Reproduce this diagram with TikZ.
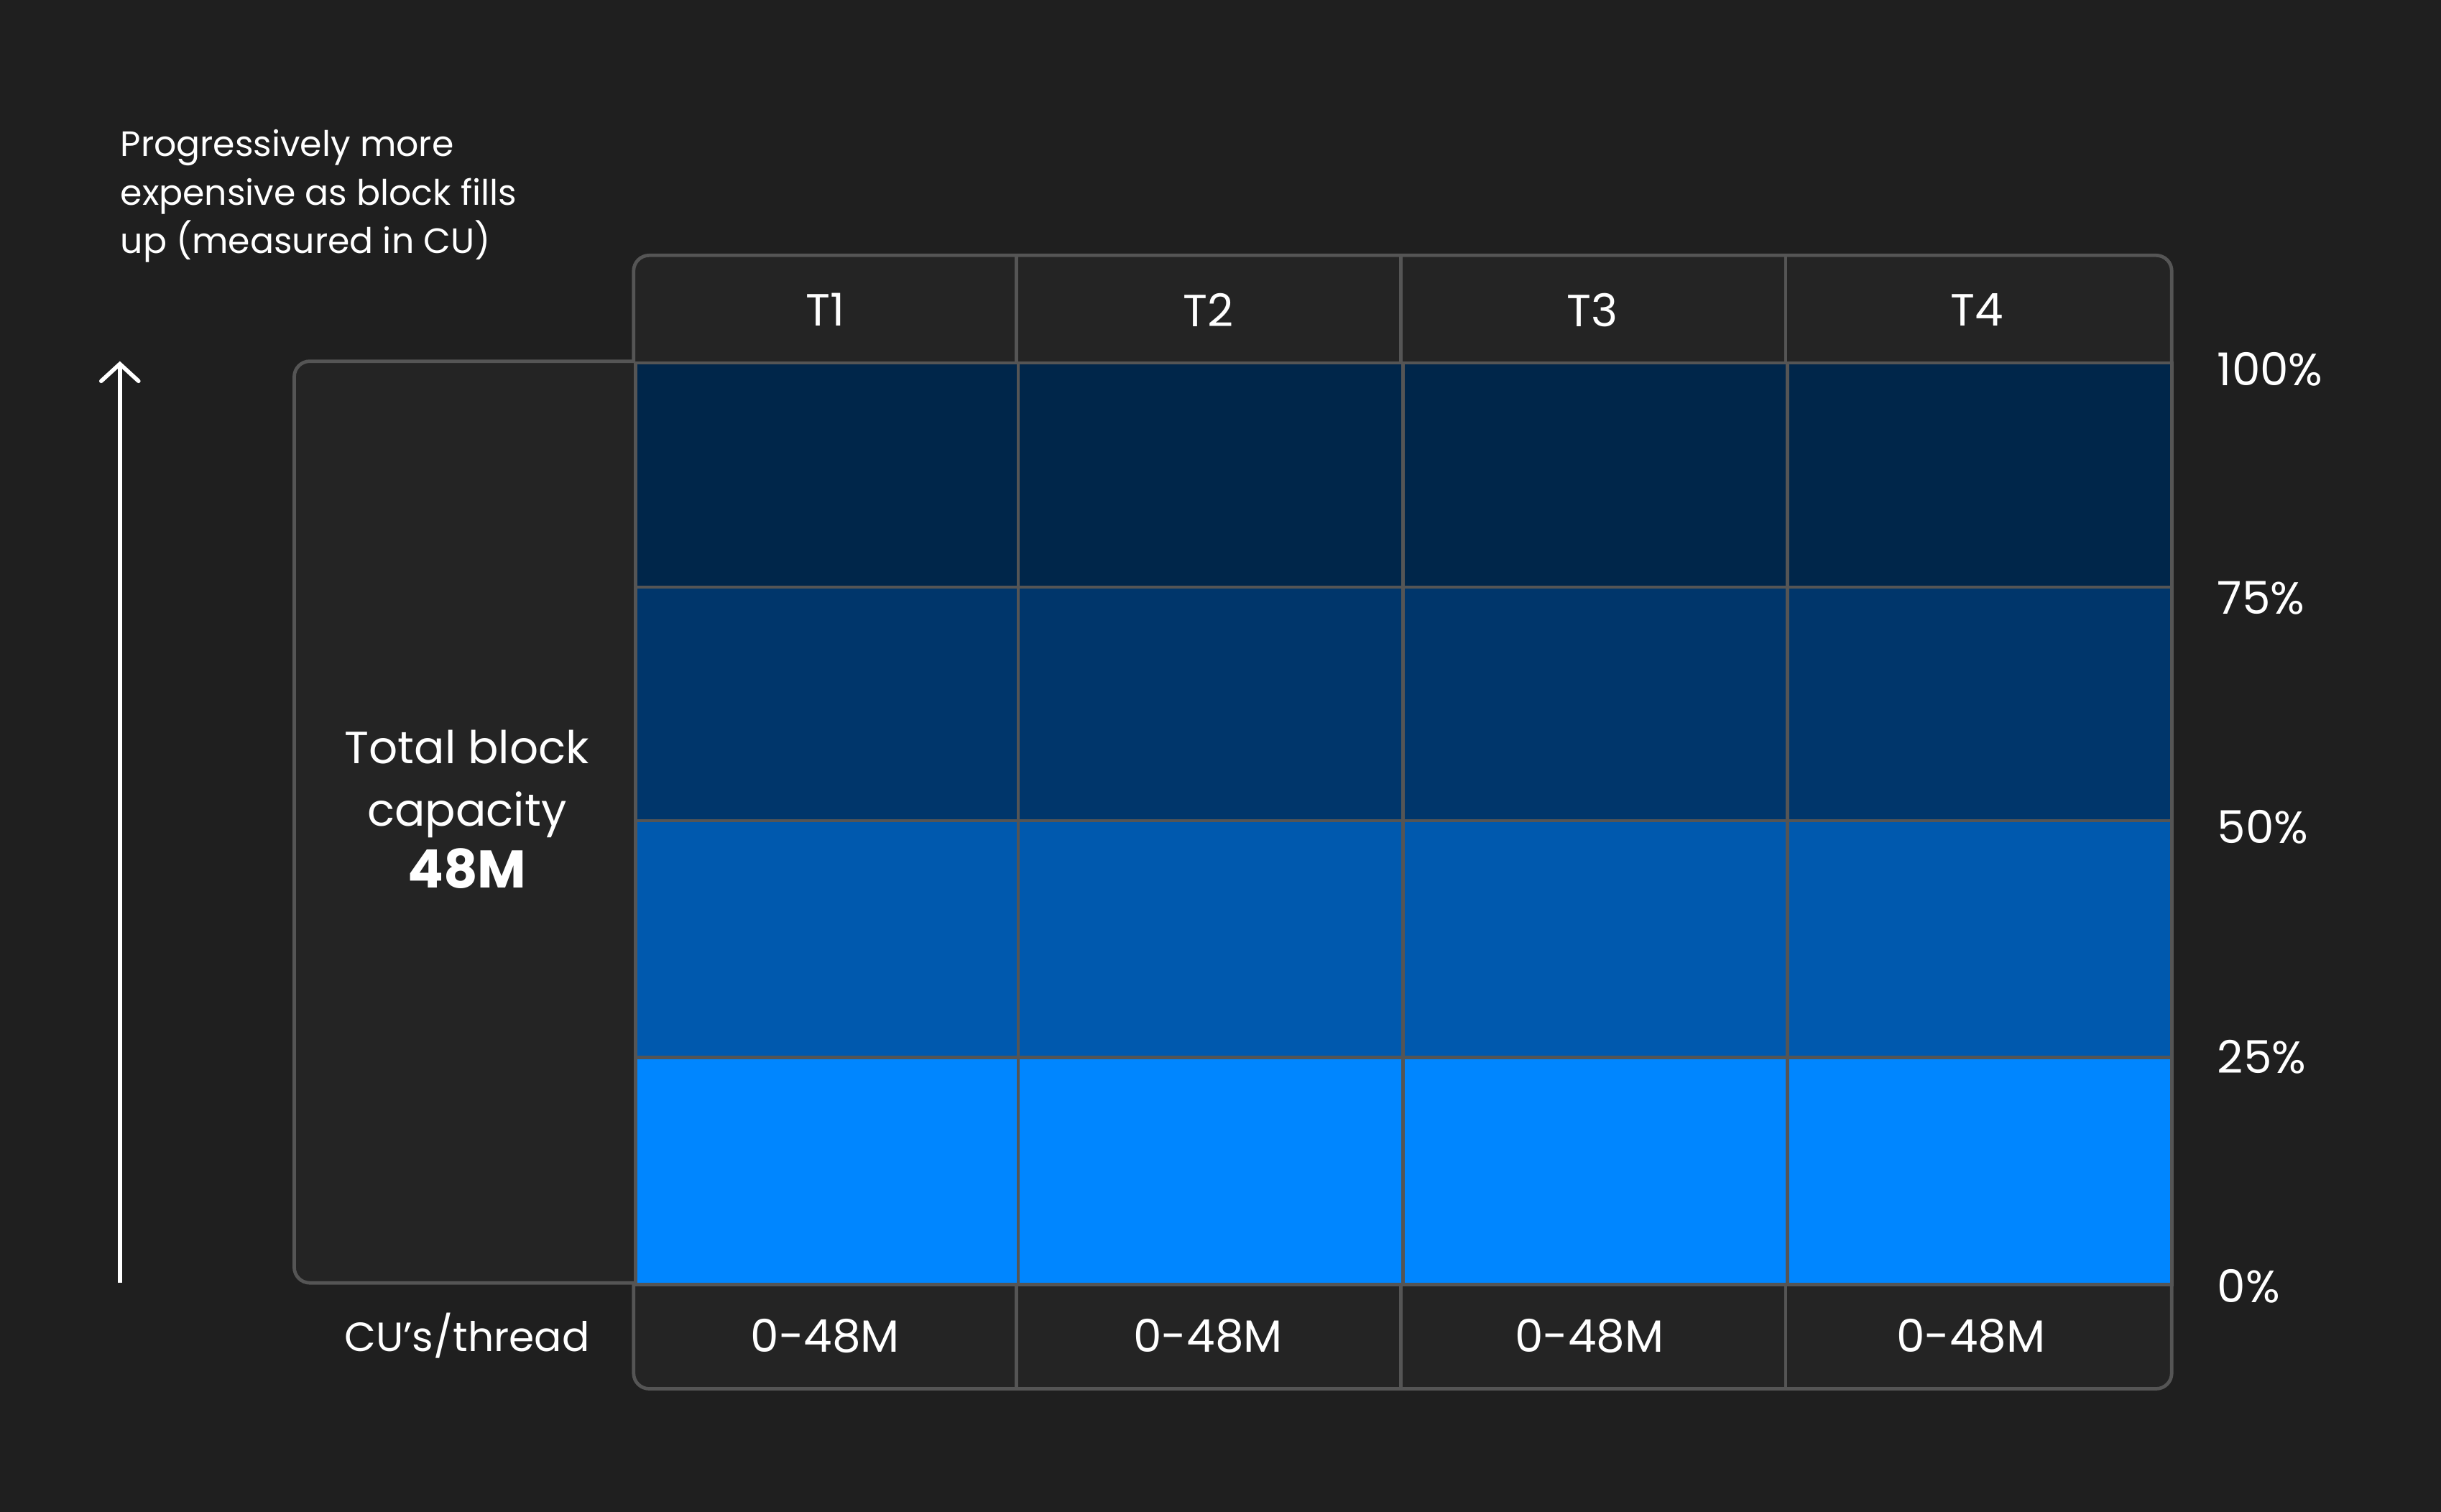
\documentclass[tikz,border=0pt]{standalone}
\usepackage{fontspec}
\setmainfont{Poppins}
\usetikzlibrary{arrows.meta}
\definecolor{bgc}{HTML}{1F1F1F}
\definecolor{boxc}{HTML}{242424}
\definecolor{linec}{HTML}{555555}
\definecolor{rowa}{HTML}{00264A}
\definecolor{rowb}{HTML}{00366B}
\definecolor{rowc}{HTML}{0059AE}
\definecolor{rowd}{HTML}{0086FF}
\tikzset{
  gridline/.style={draw=linec, line width=1.1pt},
  cellbox/.style={gridline, minimum width=123.5pt, minimum height=#1, inner sep=0pt, anchor=north west},
  lbl/.style={text=white, inner sep=0pt},
  bigtxt/.style={lbl, font=\fontsize{14.5}{18}\selectfont},
  pcttxt/.style={lbl, anchor=west, font=\fontsize{14.5}{17}\selectfont},
}
\begin{document}
\begin{tikzpicture}[x=0.5pt, y=-0.5pt]
\fill[bgc] (0,0) rectangle (1568,971);
\useasboundingbox (0,0) rectangle (1568,971);
% header box and bottom box (rounded outer corners)
\path[gridline, fill=boxc, rounded corners=5pt] (407,240) -- (407,164) -- (1395,164) -- (1395,240);
\path[gridline, fill=boxc, rounded corners=5pt] (407,816) -- (407,892) -- (1395,892) -- (1395,816);
% left box
\path[gridline, fill=boxc, rounded corners=5pt] (407,232) -- (189,232) -- (189,824) -- (407,824);
% dividers in header and bottom row
\foreach \x in {653,900,1147}{
  \draw[gridline] (\x,164) -- (\x,232);
  \draw[gridline] (\x,824) -- (\x,892);
}
\foreach \i/\xc in {1/530,2/776,3/1023,4/1270}{
  \node[bigtxt] (t\i) at (\xc,199) {T\i};
}
% colored cells
\foreach \i/\x in {1/407,2/653,3/900,4/1147}{
  \node[cellbox=72pt, fill=rowa] (ca\i) at (\x,232) {};
  \node[cellbox=75pt, fill=rowb] (cb\i) at (\x,376) {};
  \node[cellbox=76pt, fill=rowc] (cc\i) at (\x,526) {};
  \node[cellbox=73pt, fill=rowd] (cd\i) at (\x,678) {};
}
% bottom values
\foreach \i/\xc in {1/530,2/776,3/1021,4/1266}{
  \node[bigtxt] (v\i) at (\xc,858) {0-48M};
}
% left texts
\node[lbl, font=\fontsize{11.3}{15.5}\selectfont, anchor=north west, align=left] (desc) at (77,83)
  {Progressively more\\expensive as block fills\\up (measured in CU)};
\node[bigtxt, align=center, font=\fontsize{14.5}{20}\selectfont] (total) at (300,520)
  {Total block\\capacity\\{\fontsize{17}{20}\selectfont\bfseries 48M}};
\node[lbl, font=\fontsize{13.1}{16}\selectfont] (cu) at (300,858) {CU’s/thread};
% percentages
\node[pcttxt] (p100) at (1424,237) {100\%};
\node[pcttxt] (p75) at (1424,384) {75\%};
\node[pcttxt] (p50) at (1424,531) {50\%};
\node[pcttxt] (p25) at (1424,679) {25\%};
\node[pcttxt] (p0) at (1424,826) {0\%};
% arrow
\coordinate (abot) at (77,824);
\coordinate (atop) at (77,232);
\draw[white, line width=1.3pt, -{Straight Barb[length=5.5pt, width=12pt, line cap=round]}] (abot) -- (atop);
\end{tikzpicture}
\end{document}
